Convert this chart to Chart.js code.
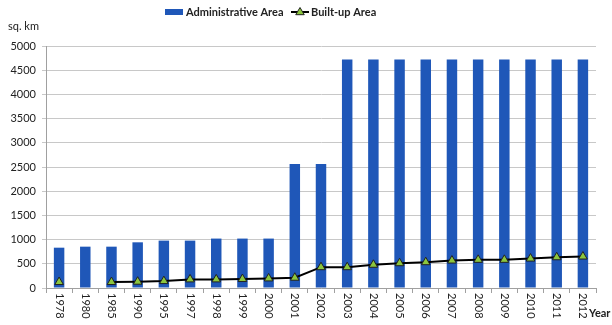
<!DOCTYPE html>
<html><head><meta charset="utf-8">
<script src="https://cdn.jsdelivr.net/npm/chart.js@4"></script>
<style>html,body{margin:0;padding:0;background:#fff}#wrap{width:612px;height:325px;position:relative}</style>
</head><body><div id="wrap"><canvas id="c" width="612" height="325"></canvas></div>
<script>
const categories = ['1978','1980','1985','1990','1995','1997','1998','1999','2000','2001','2002','2003','2004','2005','2006','2007','2008','2009','2010','2011','2012'];
const administrativeArea = [833,854,854,944,979,979,1021,1021,1021,2560,2560,4720,4720,4720,4720,4720,4720,4720,4720,4720,4720];
const builtUpArea = [123,null,123,130,143,178,178,185,198,212,430,430,480,512,533,567,582,582,608,635,650];
const yTicks = [0,500,1000,1500,2000,2500,3000,3500,4000,4500,5000];
const seriesNames = ['Administrative Area','Built-up Area'];

const BLUE = '#1f57b8';
const GREEN = '#8cc63e';
const FONT = 'Lato, "Open Sans", sans-serif';

function tri(ctx, cx, cy, r){
  ctx.beginPath(); ctx.moveTo(cx, cy - r); ctx.lineTo(cx + r*0.95, cy + r*0.6); ctx.lineTo(cx - r*0.95, cy + r*0.6); ctx.closePath();
  ctx.fillStyle = GREEN; ctx.fill(); ctx.strokeStyle = '#222'; ctx.lineWidth = 1; ctx.stroke();
}

const extras = {
  id: 'extras',
  afterDraw(chart){
    const ctx = chart.ctx, xs = chart.scales.x, area = chart.chartArea;
    ctx.save();
    ctx.fillStyle = '#222';
    ctx.font = '11px ' + FONT;
    ctx.textAlign = 'left'; ctx.textBaseline = 'middle';
    categories.forEach((lab, i) => {
      const px = xs.getPixelForTick(i);
      ctx.save();
      ctx.translate(px, area.bottom + 5);
      ctx.rotate(Math.PI/2);
      ctx.fillText(lab, 0, 0);
      ctx.restore();
    });
    ctx.font = 'bold 11px ' + FONT;
    ctx.fillText('Year', 589, 313);
    ctx.font = '11px ' + FONT;
    ctx.fillText('sq. km', 8, 26);
    // legend
    ctx.fillStyle = BLUE; ctx.fillRect(165, 9, 18, 6);
    ctx.fillStyle = '#222'; ctx.font = 'bold 11px ' + FONT;
    ctx.fillText(seriesNames[0], 186, 12);
    ctx.strokeStyle = '#000'; ctx.lineWidth = 2;
    ctx.beginPath(); ctx.moveTo(291, 12); ctx.lineTo(309, 12); ctx.stroke();
    tri(ctx, 300, 12, 4.5);
    ctx.fillStyle = '#222';
    ctx.fillText(seriesNames[1], 311, 12);
    ctx.restore();
  }
};

new Chart(document.getElementById('c'), {
  type: 'bar',
  data: {
    labels: categories,
    datasets: [
      { type: 'line', label: seriesNames[1], data: builtUpArea, borderColor: '#000', borderWidth: 2,
        backgroundColor: GREEN, pointStyle: 'triangle', pointRadius: 5, pointBorderColor: '#222',
        pointBorderWidth: 1, pointBackgroundColor: GREEN, spanGaps: false, tension: 0, order: 0 },
      { type: 'bar', label: seriesNames[0], data: administrativeArea, backgroundColor: BLUE,
        barPercentage: 0.4, categoryPercentage: 1.0, order: 1 }
    ]
  },
  options: {
    responsive: false, animation: false,
    layout: { padding: { left: 0, right: 16, top: 46, bottom: 0 } },
    plugins: { tooltip: { enabled: false }, legend: { display: false } },
    scales: {
      x: {
        grid: { offset: true, drawOnChartArea: false, drawTicks: true, tickLength: 5, color: '#a0a0a0' },
        border: { display: true, color: '#a0a0a0' },
        ticks: { display: false },
        afterFit(s){ s.height = 37; }
      },
      y: {
        min: 0, max: 5000,
        afterBuildTicks(s){ s.ticks = yTicks.map(v => ({ value: v })); },
        grid: { color: '#c8c8c8', tickLength: 4, drawTicks: true },
        border: { display: true, color: '#a0a0a0' },
        ticks: { font: { family: FONT, size: 11 }, color: '#222', padding: 6, callback: v => String(v) },
        afterFit(s){ s.width = 46; }
      }
    }
  },
  plugins: [extras]
});
</script></body></html>
